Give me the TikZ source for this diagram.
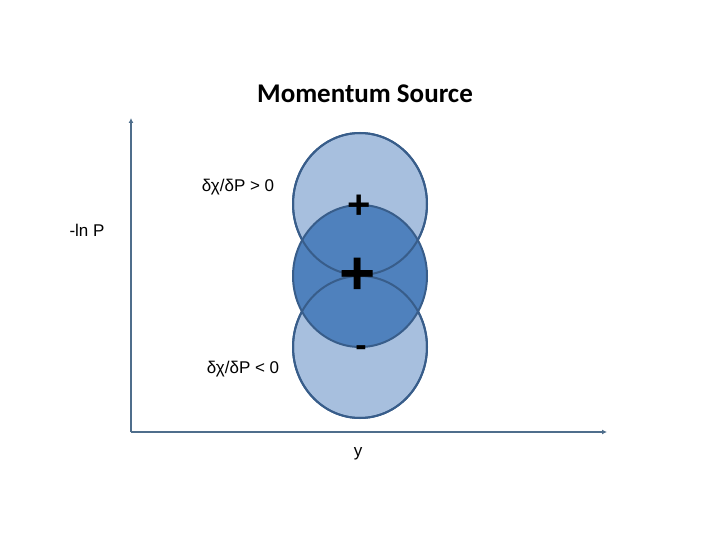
\documentclass[tikz,border=0pt]{standalone}
\usepackage{fontspec}
\setmainfont{Liberation Sans}
\newfontfamily\titlefont{Carlito}
\usepackage{tikz}
\usetikzlibrary{positioning, arrows.meta, shapes.geometric}
\definecolor{discLight}{HTML}{A7BFDE}
\definecolor{discDark}{HTML}{4F81BD}
\definecolor{discEdge}{HTML}{385D8A}
\definecolor{axisCol}{HTML}{4F6E8C}

\begin{document}
\begin{tikzpicture}[x=1pt, y=-1pt, disc/.style={ellipse, draw=discEdge, line width=2pt, minimum width=134pt, minimum height=142pt, inner sep=0pt},axis/.style={draw=axisCol, line width=1.8pt, -{Latex[length=5pt, width=5pt]}},lbl/.style={font=\fontsize{17}{19}\selectfont, inner sep=0pt},sgn/.style={inner sep=0pt, font=\fontsize{40}{40}\selectfont\bfseries}]
\useasboundingbox (0,0) rectangle (720,540);
\node[font=\titlefont\fontsize{27}{30}\selectfont\bfseries] (title) at (365,94) {Momentum Source};
\coordinate (origin) at (131,432);
\coordinate (ytip) at (131,118);
\coordinate (xtip) at (607,432);
\draw[axis] (origin) -- (ytip);
\draw[axis] (origin) -- (xtip);
\node[disc, fill=discLight] (upper) at (360,204) {};
\node[disc, fill=discLight] (lower) at (360,347) {};
\node[disc, fill=discDark] (middle) at (360,276) {};
% arcs of the light discs seen through the dark one
\draw[discEdge, line width=2pt] (upper.center) ellipse [x radius=67, y radius=71];
\draw[discEdge, line width=2pt] (lower.center) ellipse [x radius=67, y radius=71];
\node[sgn] (plusA) at (359,207) {+};
\node[sgn, font=\fontsize{62}{62}\selectfont\bfseries] (plusB) at (358,276) {+};
\node[sgn, font=\fontsize{34}{34}\selectfont\bfseries] (minus) at (361,351) {-};
\node[lbl] (gpos) at (238,187) {δχ/δP > 0};
\node[lbl] (gneg) at (243,369) {δχ/δP < 0};
\node[lbl] (lnp) at (87,230) {-ln P};
\node[lbl] (ylbl) at (358,454) {y};
\end{tikzpicture}
\end{document}
